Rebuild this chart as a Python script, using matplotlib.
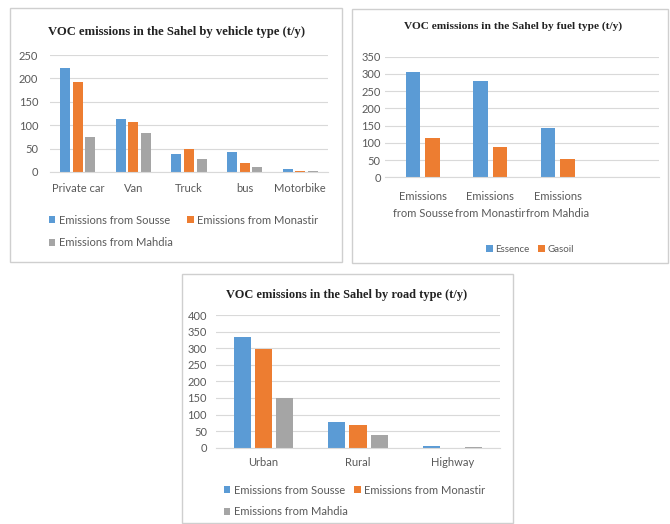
import matplotlib
matplotlib.use('Agg')
import matplotlib.pyplot as plt
from matplotlib.patches import Rectangle
import numpy as np

# data
vehicles = ['Private car', 'Van', 'Truck', 'bus', 'Motorbike']
veh_sousse = [223, 114, 39, 42, 6]
veh_monastir = [192, 107, 50, 19, 3]
veh_mahdia = [75, 84, 27, 11, 2.5]

fuel_cats = ['Emissions\nfrom Sousse', 'Emissions\nfrom Monastir', 'Emissions\nfrom Mahdia']
essence = [306, 279, 142]
gasoil = [113, 89, 52]

roads = ['Urban', 'Rural', 'Highway']
road_sousse = [333, 76, 6]
road_monastir = [297, 67, 0.5]
road_mahdia = [150, 39, 3]

W, H = 670, 524
BLUE, ORANGE, GRAY = '#5B9BD5', '#ED7D31', '#A5A5A5'
TXT = '#595959'
GRID = '#d9d9d9'
FONT = 'Lato'

fig = plt.figure(figsize=(W / 100, H / 100), dpi=100)
fig.patch.set_facecolor('white')


def px_axes(x0, y0, x1, y1):
    ax = fig.add_axes([x0 / W, 1 - y1 / H, (x1 - x0) / W, (y1 - y0) / H])
    ax.set_facecolor('none')
    ax.set_zorder(2)
    return ax


def frame(x0, y0, x1, y1):
    fig.patches.append(Rectangle((x0 / W, 1 - y1 / H), (x1 - x0) / W, (y1 - y0) / H,
                                 transform=fig.transFigure, facecolor='white',
                                 edgecolor='#cfcfcf', lw=1.0, zorder=-1))


def style(ax, ymax, step, xpad, ypad):
    ax.set_ylim(0, ymax)
    ax.set_yticks(np.arange(0, ymax + 1, step))
    ax.yaxis.grid(True, color=GRID, lw=0.8)
    ax.set_axisbelow(True)
    for s in ['top', 'right', 'left']:
        ax.spines[s].set_visible(False)
    ax.spines['bottom'].set_color(GRID)
    ax.tick_params(length=0, colors=TXT, labelsize=8)
    ax.tick_params(axis='x', pad=xpad)
    ax.tick_params(axis='y', pad=ypad)
    for lab in ax.get_xticklabels() + ax.get_yticklabels():
        lab.set_fontfamily(FONT)


frame(9.5, 8.5, 342, 262)
frame(352, 9, 668, 263)
frame(182, 274, 513, 523)

# panel 1: vehicle type
ax1 = px_axes(50, 55, 328, 172)
x = np.arange(len(vehicles))
bw, off = 0.18, 0.225
b1 = ax1.bar(x - off, veh_sousse, bw, color=BLUE, label='Emissions from Sousse')
b2 = ax1.bar(x, veh_monastir, bw, color=ORANGE, label='Emissions from Monastir')
b3 = ax1.bar(x + off, veh_mahdia, bw, color=GRAY, label='Emissions from Mahdia')
ax1.set_xlim(-0.5, len(vehicles) - 0.5)
ax1.set_xticks(x)
ax1.set_xticklabels(vehicles)
style(ax1, 250, 50, 8, 8.5)
fig.text(177 / W, 1 - 32 / H, 'VOC emissions in the Sahel by vehicle type (t/y)',
         ha='center', va='center', fontsize=9.1, fontweight='bold',
         family='Liberation Serif', color='#222222')
fig.legend([b1, b3, b2], ['Emissions from Sousse', 'Emissions from Mahdia', 'Emissions from Monastir'],
           ncol=2, loc='upper left', bbox_to_anchor=(43 / W, 1 - 209 / H), frameon=False,
           prop={'family': FONT, 'size': 8}, labelcolor=TXT, handlelength=0.6,
           handleheight=0.6, handletextpad=0.3, columnspacing=1.3, labelspacing=1.05,
           borderpad=0)

# panel 2: fuel type
ax2 = px_axes(385, 56.7, 659, 177.3)
x = np.arange(len(fuel_cats))
bw2, off2 = 0.22, 0.145
e = ax2.bar(x - off2, essence, bw2, color=BLUE, label='Essence')
g = ax2.bar(x + off2, gasoil, bw2, color=ORANGE, label='Gasoil')
ax2.set_xlim(-0.56, 3.5)
ax2.set_xticks(x)
ax2.set_xticklabels(fuel_cats, linespacing=1.6)
style(ax2, 350, 50, 10, 3)
fig.text(513 / W, 1 - 26 / H, 'VOC emissions in the Sahel by fuel type (t/y)',
         ha='center', va='center', fontsize=8.2, fontweight='bold',
         family='Liberation Serif', color='#222222')
fig.legend([e, g], ['Essence', 'Gasoil'], ncol=2, loc='center left',
           bbox_to_anchor=(481 / W, 1 - 249 / H), frameon=False,
           prop={'family': FONT, 'size': 7}, labelcolor=TXT, handlelength=0.7,
           handleheight=0.7, handletextpad=0.25, columnspacing=0.9, borderpad=0)

# panel 3: road type
ax3 = px_axes(216, 315, 500, 447.7)
x = np.arange(len(roads))
r1 = ax3.bar(x - off, road_sousse, bw, color=BLUE, label='Emissions from Sousse')
r2 = ax3.bar(x, road_monastir, bw, color=ORANGE, label='Emissions from Monastir')
r3 = ax3.bar(x + off, road_mahdia, bw, color=GRAY, label='Emissions from Mahdia')
ax3.set_xlim(-0.5, len(roads) - 0.5)
ax3.set_xticks(x)
ax3.set_xticklabels(roads)
style(ax3, 400, 50, 7, 6.5)
fig.text(347 / W, 1 - 295 / H, 'VOC emissions in the Sahel by road type (t/y)',
         ha='center', va='center', fontsize=8.9, fontweight='bold',
         family='Liberation Serif', color='#222222')
fig.legend([r1, r3, r2], ['Emissions from Sousse', 'Emissions from Mahdia', 'Emissions from Monastir'],
           ncol=2, loc='upper left', bbox_to_anchor=(218 / W, 1 - 479 / H), frameon=False,
           prop={'family': FONT, 'size': 8}, labelcolor=TXT, handlelength=0.6,
           handleheight=0.6, handletextpad=0.3, columnspacing=0.6, labelspacing=0.95,
           borderpad=0)

fig.savefig('out.png', dpi=100, facecolor='white')
